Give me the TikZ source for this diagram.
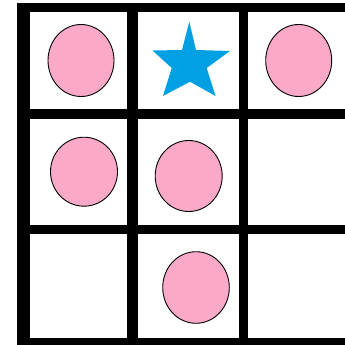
\documentclass[tikz,border=0pt]{standalone}
\usepackage{tikz}

\definecolor{tokenpink}{RGB}{250,170,200}
\definecolor{starblue}{RGB}{0,160,227}

\tikzset{
  wall/.style={fill=black},
  token/.style={fill=tokenpink, draw=black, line width=0.9pt}
}

\begin{document}
\begin{tikzpicture}[x=1pt, y=-1pt]
\useasboundingbox (0,0) rectangle (345,345);

% Grid walls
\fill[wall] (17,3) rectangle (30,345);
\fill[wall] (17,3) rectangle (345,12);
\fill[wall] (127,3) rectangle (138,345);
\fill[wall] (239,3) rectangle (248,345);
\fill[wall] (17,109) rectangle (345,119);
\fill[wall] (17,225) rectangle (345,234);
\fill[wall] (17,338) rectangle (345,345);

% Pink tokens
\draw[token] (81,60.5) ellipse (33pt and 36pt);
\draw[token] (298.7,60.5) ellipse (33pt and 36pt);
\draw[token] (84,171.7) ellipse (33.5pt and 34.5pt);
\draw[token] (188.7,176) ellipse (33.5pt and 35.5pt);
\draw[token] (196,287.5) ellipse (33.3pt and 35.8pt);

% Star
\fill[starblue] (189.3,21.7) -- (182,50) -- (152.5,50.5) -- (171.7,68)
  -- (163,96) -- (190,81.7) -- (215.5,96) -- (206.7,68)
  -- (230,51) -- (196,50) -- cycle;
\end{tikzpicture}
\end{document}
